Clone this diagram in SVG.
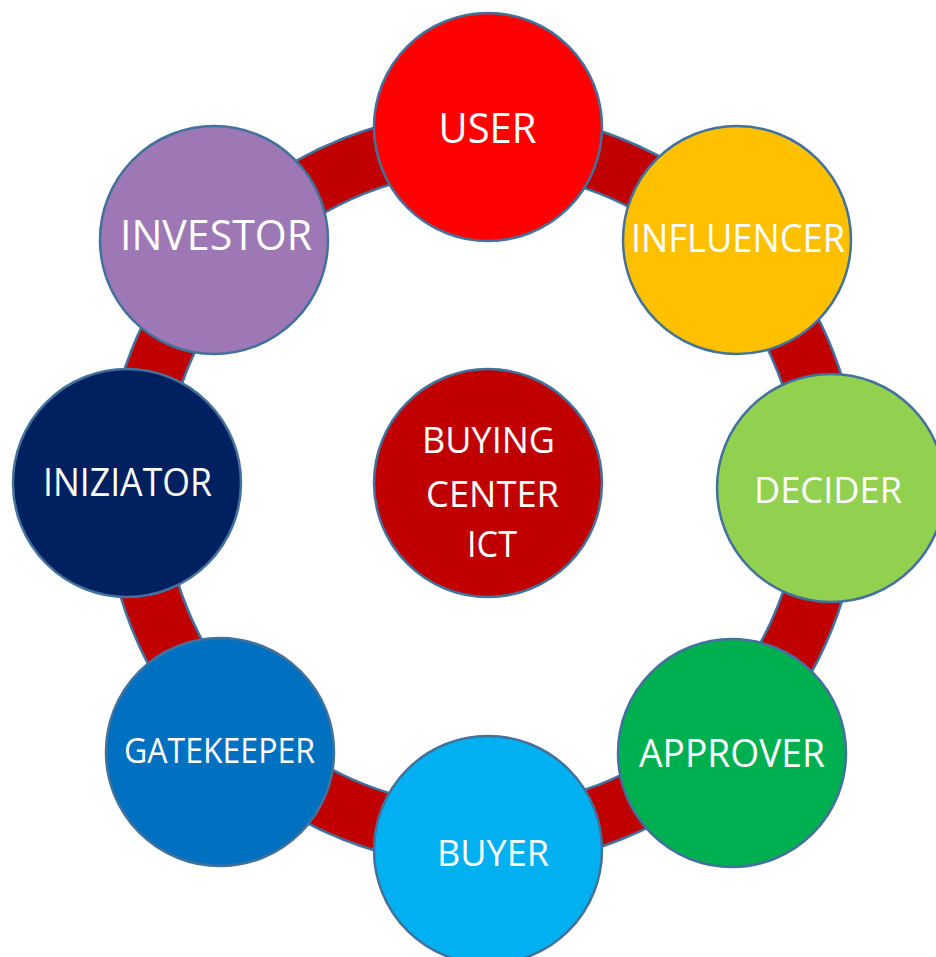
<svg xmlns="http://www.w3.org/2000/svg" width="936" height="957" viewBox="0 0 936 957">
<style>
.node{stroke:#41719C;stroke-width:2.5}
.lbl{fill:#FFFFFF;font-family:"Open Sans","Noto Sans","Liberation Sans",sans-serif;text-anchor:middle}
.ring{fill:#C00000;stroke:#41719C;stroke-width:2.5;fill-rule:evenodd}
</style>
<rect width="936" height="957" fill="#FFFFFF"/>
<g id="connectors">
<path class="ring" d="M 482 112 A 377 377 0 1 1 482 866 A 377 377 0 1 1 482 112 Z M 482 171 A 318 318 0 1 0 482 807 A 318 318 0 1 0 482 171 Z"/>
</g>
<g id="center">
<circle class="node" cx="488" cy="483" r="114" fill="#C00000"/>
<text class="lbl" x="488.5" y="453" font-size="36.5" textLength="133" lengthAdjust="spacingAndGlyphs">BUYING</text>
<text class="lbl" x="492.5" y="507" font-size="36.5" textLength="133" lengthAdjust="spacingAndGlyphs">CENTER</text>
<text class="lbl" x="492" y="557" font-size="36.5" textLength="50" lengthAdjust="spacingAndGlyphs">ICT</text>
</g>
<g id="user">
<circle class="node" cx="488" cy="127" r="114" fill="#FF0000"/>
<text class="lbl" x="487.5" y="143" font-size="42" textLength="98" lengthAdjust="spacingAndGlyphs">USER</text>
</g>
<g id="influencer">
<circle class="node" cx="737" cy="240" r="114" fill="#FFC000"/>
<text class="lbl" x="738" y="252" font-size="38" textLength="214" lengthAdjust="spacingAndGlyphs">INFLUENCER</text>
</g>
<g id="decider">
<circle class="node" cx="831" cy="488" r="114" fill="#92D050"/>
<text class="lbl" x="828" y="503" font-size="36.5" textLength="148" lengthAdjust="spacingAndGlyphs">DECIDER</text>
</g>
<g id="approver">
<circle class="node" cx="732" cy="753" r="114" fill="#00B050"/>
<text class="lbl" x="732" y="767" font-size="38" textLength="186" lengthAdjust="spacingAndGlyphs">APPROVER</text>
</g>
<g id="buyer">
<circle class="node" cx="488" cy="850" r="114" fill="#00B0F0"/>
<text class="lbl" x="493" y="866" font-size="36.5" textLength="112" lengthAdjust="spacingAndGlyphs">BUYER</text>
</g>
<g id="gatekeeper">
<circle class="node" cx="220" cy="752" r="114" fill="#0070C0"/>
<text class="lbl" x="219.5" y="763" font-size="35" textLength="191" lengthAdjust="spacingAndGlyphs">GATEKEEPER</text>
</g>
<g id="iniziator">
<circle class="node" cx="127" cy="483" r="114" fill="#002060"/>
<text class="lbl" x="127.5" y="496" font-size="39" textLength="169" lengthAdjust="spacingAndGlyphs">INIZIATOR</text>
</g>
<g id="investor">
<circle class="node" cx="214" cy="240" r="114" fill="#9E78B5"/>
<text class="lbl" x="216" y="250" font-size="42" textLength="192" lengthAdjust="spacingAndGlyphs">INVESTOR</text>
</g>
</svg>
